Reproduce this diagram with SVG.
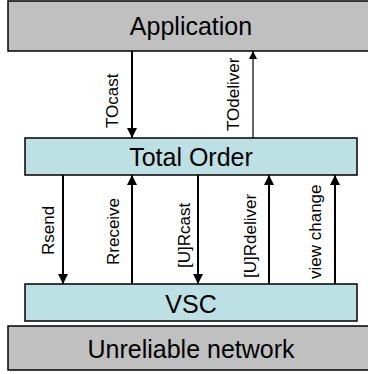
<svg xmlns="http://www.w3.org/2000/svg" width="368" height="374" viewBox="0 0 368 374">
<style>
.box{stroke:#000;stroke-width:1.5}
.grey{fill:#c0c0c0}
.teal{fill:#bce0e3}
.big{font-family:"Liberation Sans",Arial,sans-serif;font-size:25px;fill:#000;text-anchor:middle}
.lbl{font-family:"Liberation Sans",Arial,sans-serif;font-size:17px;fill:#000}
.conn{stroke:#000;stroke-width:2;fill:none}
.thin{stroke-width:1.2}
</style>
<defs>
<marker id="ah" viewBox="0 0 10 10" refX="10" refY="5" markerWidth="10" markerHeight="10" markerUnits="userSpaceOnUse" orient="auto">
<path d="M0,0 L10,5 L0,10 z" fill="#000"/>
</marker>
<marker id="ahs" viewBox="0 0 10 10" refX="10" refY="5" markerWidth="9" markerHeight="8" markerUnits="userSpaceOnUse" orient="auto">
<path d="M0,0 L10,5 L0,10 z" fill="#000"/>
</marker>
</defs>
<rect width="368" height="374" fill="#fff"/>
<g id="application">
<rect class="box grey" x="8" y="1" width="372" height="50"/>
<text class="big" x="191" y="35">Application</text>
</g>
<g id="total-order">
<rect class="box teal" x="25" y="138" width="332" height="37"/>
<text class="big" x="191" y="166">Total Order</text>
</g>
<g id="vsc">
<rect class="box teal" x="25" y="284" width="332" height="37"/>
<text class="big" x="191" y="313">VSC</text>
</g>
<g id="unreliable-network">
<rect class="box grey" x="8" y="326" width="372" height="44"/>
<text class="big" x="191" y="358">Unreliable network</text>
</g>
<g id="connectors">
<line class="conn" x1="132" y1="51" x2="132" y2="138" marker-end="url(#ah)"/>
<line class="conn thin" x1="253" y1="138" x2="253" y2="51" marker-end="url(#ahs)"/>
<line class="conn" x1="63" y1="175" x2="63" y2="284" marker-end="url(#ah)"/>
<line class="conn" x1="132" y1="284" x2="132" y2="175" marker-end="url(#ah)"/>
<line class="conn" x1="198" y1="175" x2="198" y2="284" marker-end="url(#ah)"/>
<line class="conn" x1="269" y1="284" x2="269" y2="175" marker-end="url(#ah)"/>
<line class="conn" x1="335" y1="284" x2="335" y2="175" marker-end="url(#ah)"/>
<text class="lbl" transform="translate(118,128) rotate(-90)">TOcast</text>
<text class="lbl" transform="translate(239,131) rotate(-90)">TOdeliver</text>
<text class="lbl" transform="translate(54,255) rotate(-90)">Rsend</text>
<text class="lbl" transform="translate(119,265) rotate(-90)">Rreceive</text>
<text class="lbl" transform="translate(190,268) rotate(-90)">[U]Rcast</text>
<text class="lbl" transform="translate(256,278) rotate(-90)">[U]Rdeliver</text>
<text class="lbl" transform="translate(321,279) rotate(-90)">view change</text>
</g>
</svg>
